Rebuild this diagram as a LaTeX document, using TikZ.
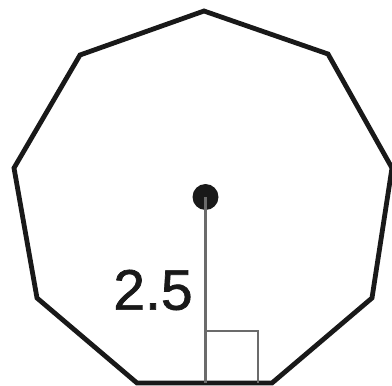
\documentclass[tikz,border=0pt]{standalone}
\usepackage{fontspec}
\setmainfont{Liberation Sans}
\newfontfamily\lblfont[FakeBold=1.2]{Liberation Sans}
\begin{document}
\begin{tikzpicture}[x=1pt,y=-1pt,
  edge/.style={line width=4.8pt,line join=miter,black!90},
  apoth/.style={line width=2.8pt,black!58},
  dotc/.style={circle,fill=black!90,inner sep=0pt,minimum size=26pt},
  lbl/.style={font=\lblfont\fontsize{57}{57}\selectfont,text=black!90,inner sep=0pt}]
\useasboundingbox (0,0) rectangle (392,386);
\coordinate (v1) at (204,11);
\coordinate (v2) at (328,54);
\coordinate (v3) at (392,168);
\coordinate (v4) at (372,298);
\coordinate (v5) at (272,383);
\coordinate (v6) at (137,383);
\coordinate (v7) at (37,298);
\coordinate (v8) at (14,168);
\coordinate (v9) at (80,55);
\draw[edge] (v1) -- (v2) -- (v3) -- (v4) -- (v5) -- (v6) -- (v7) -- (v8) -- (v9) -- cycle;
\coordinate (foot) at (205.5,383);
\coordinate (sqa) at (205.5,331);
\coordinate (sqb) at (258,331);
\coordinate (sqc) at (258,383);
\draw[apoth] (sqa) -- (sqb) -- (sqc);
\node[dotc] (c) at (205.5,197) {};
\draw[apoth] (c.center) -- (foot);
\node[lbl] (l) at (153,290) {2.5};
\end{tikzpicture}
\end{document}
